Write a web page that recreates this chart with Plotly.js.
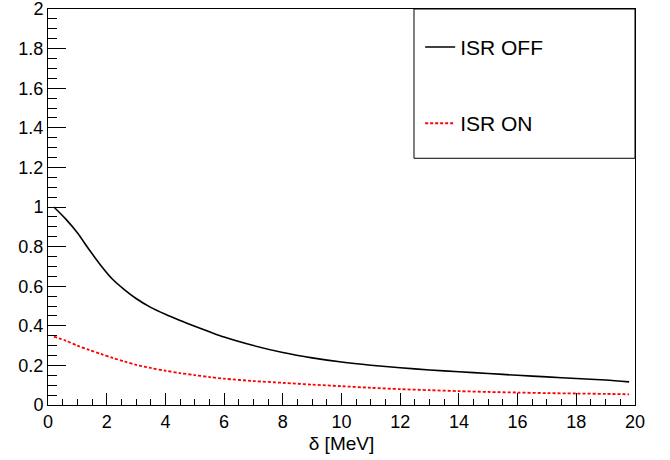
<!DOCTYPE html>
<html>
<head>
<meta charset="utf-8">
<script src="https://cdn.plot.ly/plotly-3.0.1.min.js"></script>
<style>html,body{margin:0;padding:0;background:#fff;}</style>
</head>
<body>
<div id="chart" style="width:670px;height:460px;"></div>
<script>
const deltaMeV = [0.2, 0.6, 1, 1.4, 1.8, 2.2, 2.6, 3, 3.5, 4, 4.5, 5, 5.5, 6, 7, 8, 9, 10, 11, 12, 13, 14, 15, 16, 17, 18, 19, 19.8];
const isrOff = [1.0, 0.94, 0.87, 0.785, 0.705, 0.635, 0.583, 0.538, 0.493, 0.458, 0.427, 0.398, 0.370, 0.343, 0.300, 0.265, 0.238, 0.217, 0.201, 0.188, 0.177, 0.168, 0.159, 0.150, 0.142, 0.134, 0.126, 0.117];
const isrOn = [0.345, 0.325, 0.30, 0.278, 0.258, 0.238, 0.22, 0.203, 0.187, 0.173, 0.161, 0.151, 0.141, 0.133, 0.121, 0.112, 0.103, 0.095, 0.087, 0.080, 0.075, 0.070, 0.066, 0.063, 0.060, 0.058, 0.056, 0.054];
const seriesNames = ['ISR OFF', 'ISR ON'];
const xTitle = 'δ [MeV]';
const xTickVals = [0, 2, 4, 6, 8, 10, 12, 14, 16, 18, 20];
const xTickText = ['0', '2', '4', '6', '8', '10', '12', '14', '16', '18', '20'];
const yTickVals = [0, 0.2, 0.4, 0.6, 0.8, 1, 1.2, 1.4, 1.6, 1.8, 2];
const yTickText = ['0', '0.2', '0.4', '0.6', '0.8', '1', '1.2', '1.4', '1.6', '1.8', '2'];

const font = {family: 'Liberation Sans, Arial, sans-serif', color: '#000'};

const traces = [
  {x: deltaMeV, y: isrOff, name: seriesNames[0], type: 'scatter', mode: 'lines',
   line: {color: '#000', width: 1.6, shape: 'spline', smoothing: 0.8}, legendgroup: 'a'},
  {x: deltaMeV, y: isrOn, name: seriesNames[1], type: 'scatter', mode: 'lines',
   line: {color: '#ff0000', width: 1.8, dash: '3px,2px', shape: 'spline', smoothing: 0.8}, legendgroup: 'b'}
];

const layout = {
  width: 670, height: 460,
  margin: {l: 48, r: 35, t: 9, b: 55},
  paper_bgcolor: '#fff', plot_bgcolor: '#fff',
  font: Object.assign({size: 18}, font),
  showlegend: true,
  legend: {x: 0.634, y: 0.955, xanchor: 'left', yanchor: 'top',
           bgcolor: 'rgba(0,0,0,0)', borderwidth: 0, tracegroupgap: 46,
           font: Object.assign({size: 21}, font)},
  xaxis: {range: [0, 20], tickmode: 'array', tickvals: xTickVals, ticktext: xTickText,
          ticks: 'inside', ticklen: 12, tickwidth: 1, tickcolor: '#000', ticklabeloverflow: 'allow',
          showline: true, linecolor: '#000', linewidth: 1, mirror: true, showgrid: false, zeroline: false,
          minor: {dtick: 0.5, tick0: 0, ticks: 'inside', ticklen: 6, tickcolor: '#000', showgrid: false},
          tickfont: Object.assign({size: 18}, font),
          title: {text: xTitle, font: Object.assign({size: 19}, font), standoff: 6}},
  yaxis: {range: [0, 2], tickmode: 'array', tickvals: yTickVals, ticktext: yTickText,
          ticks: 'inside', ticklen: 18, tickwidth: 1, tickcolor: '#000', ticklabeloverflow: 'allow',
          showline: true, linecolor: '#000', linewidth: 1, mirror: true, showgrid: false, zeroline: false,
          minor: {dtick: 0.05, tick0: 0, ticks: 'inside', ticklen: 9, tickcolor: '#000', showgrid: false},
          tickfont: Object.assign({size: 18}, font)},
  shapes: [{type: 'rect', xref: 'paper', yref: 'paper', x0: 0.6235, x1: 1.0, y0: 0.623, y1: 1.0,
            line: {color: '#000', width: 1}, fillcolor: 'rgba(0,0,0,0)'}]
};

Plotly.newPlot('chart', traces, layout, {displayModeBar: false, staticPlot: true});
</script>
</body>
</html>
